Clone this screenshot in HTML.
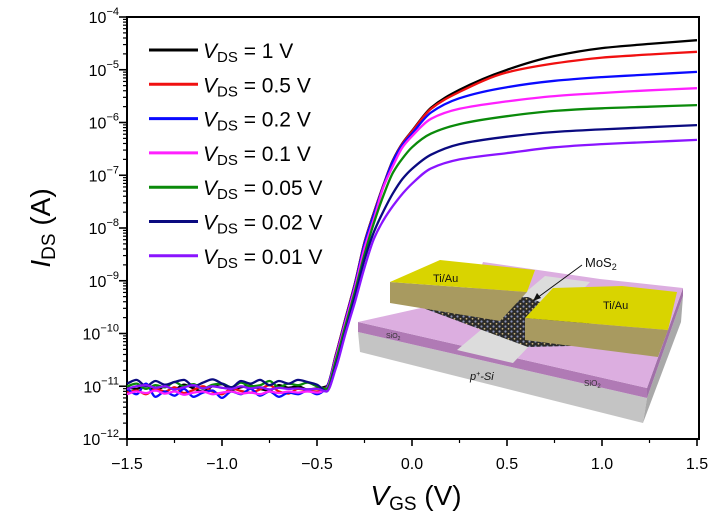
<!DOCTYPE html>
<html><head><meta charset="utf-8"><style>
html,body{margin:0;padding:0;background:#fff;}
svg{display:block;font-family:"Liberation Sans",Arial,sans-serif;}
</style></head><body>
<svg id="chart" width="723" height="523" viewBox="0 0 723 523" xmlns="http://www.w3.org/2000/svg">
<defs>
<pattern id="hex" width="6" height="5" patternUnits="userSpaceOnUse">
<rect width="6" height="5" fill="#2a2a2a"/>
<circle cx="1.5" cy="1.5" r="1.1" fill="#8a93b8"/>
<circle cx="4.5" cy="3.8" r="0.9" fill="#c9b27a"/>
</pattern>
</defs>
<g id="inset">
<polygon points="358,332 647,398 643,423 360,352" fill="#c4c4c4"/>
<polygon points="647,398 683,296 681,322 643,423" fill="#a9a9a9"/>
<polygon points="358,322 647,388 647,398 358,332" fill="#b07ab5"/>
<polygon points="647,388 683,288 683,296 647,398" fill="#a070a8"/>
<polygon points="358,322 470,297 483,262 600,279 683,288 647,388" fill="#dcaee0"/>
<polygon points="457,350 513,363 590,282 545,276" fill="#dcdcdc"/>
<polygon points="423,300 528,297 612,333 612,345 528,347 423,308" fill="url(#hex)"/>
<polygon points="390,282 527,292 500,321 390,303" fill="#a89a60"/>
<polygon points="390,282 440,260 535,270 527,292" fill="#d9d400"/>
<polygon points="525,318 668,330 658,357 525,340" fill="#a89a60"/>
<polygon points="525,318 553,288 622,286 677,292 668,330" fill="#d9d400"/>
<text x="433" y="282" font-size="11" fill="#111">Ti/Au</text>
<text x="603" y="309" font-size="11" fill="#111">Ti/Au</text>
<text x="585" y="267" font-size="13" fill="#111">MoS<tspan font-size="9" dy="3">2</tspan></text>
<line x1="582" y1="265" x2="537" y2="298" stroke="#111" stroke-width="1"/>
<polygon points="533,301 537,293 541,298" fill="#111"/>
<text x="470" y="380" font-size="11" font-style="italic" fill="#111">p<tspan font-size="7" dy="-4">+</tspan><tspan dy="4">-Si</tspan></text>
<text x="386" y="338" font-size="7" fill="#333">SiO<tspan font-size="5" dy="2">2</tspan></text>
<text x="584" y="386" font-size="8" fill="#333">SiO<tspan font-size="6" dy="2">2</tspan></text>
</g>
<g id="axes"></g>
<g id="series"></g>
<g id="legend"></g>
</svg>
<script>
const vgs = [-1.5,-1.45,-1.4,-1.35,-1.3,-1.25,-1.2,-1.15,-1.1,-1.05,-1.0,-0.95,-0.9,-0.85,-0.8,-0.75,-0.7,-0.65,-0.6,-0.55,-0.5,
  -0.45,-0.4,-0.35,-0.3,-0.25,-0.2,-0.15,-0.1,-0.05,0,0.1,0.25,0.5,0.75,1.0,1.25,1.5];
const seriesLabels = ["1","0.5","0.2","0.1","0.05","0.02","0.01"];
const seriesColors = ["#000000","#f01010","#0a0aff","#ff20ff","#0a8a0a","#0a0a80","#8a14ff"];
// log10(I_DS / A)
const logI_1V = [-11.02,-11.05,-10.98,-11.08,-11.0,-11.06,-10.97,-11.04,-11.1,-11.0,-10.96,-11.07,-11.02,-10.99,-11.05,-11.08,-10.98,-11.03,-11.0,-11.06,-11.04,
  -11.0,-10.39,-9.71,-9.04,-8.27,-7.70,-7.18,-6.71,-6.39,-6.16,-5.72,-5.38,-5.0,-4.74,-4.59,-4.51,-4.44];
const logI_05V = [-11.12,-11.08,-11.15,-11.05,-11.1,-11.02,-11.13,-11.07,-11.0,-11.1,-11.15,-11.04,-11.09,-11.12,-11.06,-10.98,-11.1,-11.14,-11.05,-11.08,-11.1,
  -11.02,-10.4,-9.72,-9.05,-8.28,-7.71,-7.19,-6.72,-6.40,-6.17,-5.74,-5.42,-5.05,-4.88,-4.77,-4.71,-4.66];
const logI_02V = [-11.05,-11.15,-10.95,-11.2,-11.1,-11.18,-11.05,-11.2,-11.12,-11.08,-11.22,-11.1,-11.15,-11.05,-11.18,-11.1,-11.2,-11.12,-11.15,-11.08,-11.15,
  -11.03,-10.42,-9.74,-9.07,-8.30,-7.73,-7.20,-6.73,-6.42,-6.21,-5.81,-5.54,-5.33,-5.21,-5.14,-5.09,-5.04];
const logI_01V = [-11.15,-11.1,-11.13,-11.08,-11.14,-11.1,-11.16,-11.12,-11.1,-11.15,-11.12,-11.1,-11.14,-11.12,-11.15,-11.1,-11.13,-11.1,-11.12,-11.1,-11.12,
  -11.05,-10.45,-9.78,-9.12,-8.38,-7.82,-7.22,-6.82,-6.47,-6.26,-5.93,-5.74,-5.6,-5.5,-5.44,-5.39,-5.35];
const logI_005V = [-11.0,-10.95,-11.05,-10.98,-11.02,-10.92,-11.0,-10.96,-11.05,-10.97,-10.95,-11.02,-10.93,-11.0,-10.98,-10.9,-11.02,-10.95,-10.98,-10.93,-11.0,
  -11.05,-10.5,-9.85,-9.2,-8.5,-7.9,-7.38,-6.95,-6.68,-6.47,-6.21,-6.03,-5.88,-5.78,-5.73,-5.7,-5.67];
const logI_002V = [-10.95,-10.88,-11.0,-10.9,-10.97,-10.92,-10.88,-11.0,-10.93,-10.87,-10.95,-11.02,-10.9,-10.95,-10.88,-10.98,-10.9,-10.95,-10.88,-10.92,-10.97,
  -11.1,-10.6,-9.95,-9.3,-8.6,-8.07,-7.68,-7.34,-7.07,-6.88,-6.61,-6.41,-6.27,-6.18,-6.13,-6.09,-6.05];
const logI_001V = [-11.05,-11.0,-10.98,-11.03,-11.0,-11.06,-11.02,-10.98,-11.04,-11.0,-11.03,-11.05,-11.0,-11.04,-11.02,-11.06,-11.03,-11.05,-11.04,-11.06,-11.05,
  -11.1,-10.65,-10.0,-9.4,-8.75,-8.2,-7.85,-7.58,-7.35,-7.16,-6.87,-6.7,-6.58,-6.47,-6.41,-6.37,-6.33];
const xTicks = [-1.5,-1.0,-0.5,0.0,0.5,1.0,1.5];
const xTickLabels = ["\u22121.5","\u22121.0","\u22120.5","0.0","0.5","1.0","1.5"];
const yTicks = [-4,-5,-6,-7,-8,-9,-10,-11,-12];

const NS = "http://www.w3.org/2000/svg";
const L = 127, R = 697, T = 17, DEC = 52.75;
const xS = v => L + (v + 1.5) * (R - L) / 3;
const yS = l => T + (-4 - l) * DEC;
const B = yS(-12);
function mk(tag, attrs, parent){const e=document.createElementNS(NS,tag);for(const k in attrs)e.setAttribute(k,attrs[k]);parent.appendChild(e);return e;}
// monotone cubic (Fritsch-Carlson) path in screen coords
function monotone(pts){
  const n=pts.length, dx=[], s=[], m=[];
  for(let i=0;i<n-1;i++){dx[i]=pts[i+1][0]-pts[i][0]; s[i]=(pts[i+1][1]-pts[i][1])/dx[i];}
  m[0]=s[0]; m[n-1]=s[n-2];
  for(let i=1;i<n-1;i++){
    if(s[i-1]*s[i]<=0) m[i]=0;
    else { const w1=2*dx[i]+dx[i-1], w2=dx[i]+2*dx[i-1]; m[i]=(w1+w2)/(w1/s[i-1]+w2/s[i]); }
  }
  let d='M'+pts[0][0].toFixed(1)+','+pts[0][1].toFixed(1);
  for(let i=0;i<n-1;i++){
    const h=dx[i]/3;
    d+='C'+(pts[i][0]+h).toFixed(1)+','+(pts[i][1]+m[i]*h).toFixed(1)+' '+(pts[i+1][0]-h).toFixed(1)+','+(pts[i+1][1]-m[i+1]*h).toFixed(1)+' '+pts[i+1][0].toFixed(1)+','+pts[i+1][1].toFixed(1);
  }
  return d;
}
const axes = document.getElementById('axes');
const frame = mk('rect',{x:L,y:T,width:R+2-L,height:B-T,fill:'none',stroke:'#000','stroke-width':2},axes);


yTicks.forEach(t=>{
  const y=yS(t);
  const tk=mk('line',{x1:L-8,x2:L,y1:y,y2:y,stroke:'#000','stroke-width':1.6},axes);
  
  
  const tx=mk('text',{x:L-8,y:y+6,'text-anchor':'end','font-size':16,fill:'#000'},axes);
  
  
  tx.innerHTML='10<tspan font-size="11" dy="-8">\u2212'+(-t)+'</tspan>';
  if(t>-12){for(let k=2;k<=9;k++){const ym=yS(t-1+Math.log10(k));
    const m=mk('line',{x1:L-4,x2:L,y1:ym,y2:ym,stroke:'#000','stroke-width':1.2},axes);
    
    }}
});
xTicks.forEach((t,i)=>{
  const x=xS(t);
  const tk=mk('line',{x1:x,x2:x,y1:B,y2:B+7,stroke:'#000','stroke-width':1.6},axes);
  
  
  const tx=mk('text',{x:x,y:B+30,'text-anchor':'middle','font-size':16,fill:'#000'},axes);
  
  
  tx.textContent=xTickLabels[i];
  if(i<xTicks.length-1){const xm=xS(t+0.25);
    const m=mk('line',{x1:xm,x2:xm,y1:B,y2:B+4,stroke:'#000','stroke-width':1.2},axes);
    
    }
});
const yt=mk('text',{x:0,y:0,'text-anchor':'middle','font-size':28,transform:'translate(50,228) rotate(-90)'},axes);


yt.innerHTML='<tspan font-style="italic">I</tspan><tspan font-size="19" dy="5">DS</tspan><tspan dy="-5"> (A)</tspan>';
const xt=mk('text',{x:416,y:505,'text-anchor':'middle','font-size':28},axes);


xt.innerHTML='<tspan font-style="italic">V</tspan><tspan font-size="19" dy="5">GS</tspan><tspan dy="-5"> (V)</tspan>';
const all=[logI_1V,logI_05V,logI_02V,logI_01V,logI_005V,logI_002V,logI_001V];
const sg=document.getElementById('series');
all.forEach((arr,i)=>{
  const pts=arr.map((l,j)=>[xS(vgs[j]),yS(l)]);
  const p=mk('path',{d:monotone(pts),fill:'none',stroke:seriesColors[i],'stroke-width':2.3,'stroke-linejoin':'round'},sg);
  
  
});
const lg=document.getElementById('legend');
seriesLabels.forEach((s,i)=>{
  const y=50+i*34.3;
  const ln=mk('line',{x1:149,x2:198,y1:y,y2:y,stroke:seriesColors[i],'stroke-width':3},lg);
  
  
  const tx=mk('text',{x:203,y:y+8,'font-size':21,fill:'#000'},lg);
  
  
  tx.innerHTML='<tspan font-style="italic">V</tspan><tspan font-size="15" dy="4">DS</tspan><tspan dy="-4"> = '+s+' V</tspan>';
});
</script>
</body></html>
